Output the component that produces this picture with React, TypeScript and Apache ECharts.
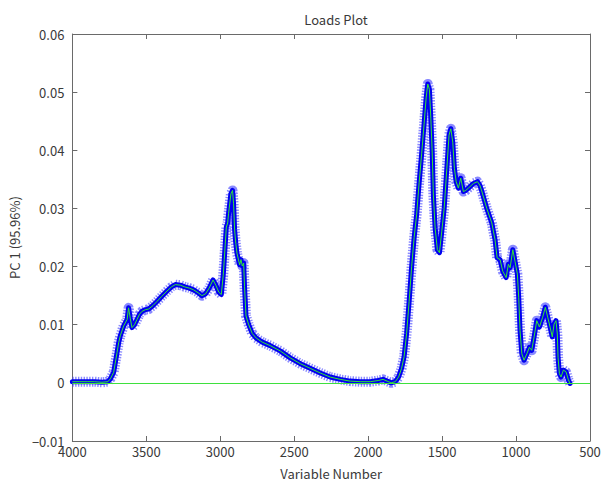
import React, { useEffect, useRef } from "react";
import * as echarts from "echarts";

const titleText = "Loads Plot";
const xAxisName = "Variable Number";
const yAxisName = "PC 1 (95.96%)";

const wavenumbers: number[] = [
  4000, 3950, 3900, 3850, 3800, 3760, 3743, 3721, 3698, 3687, 3676, 3653, 3630, 3620, 3608, 3597,
  3580, 3563, 3546, 3529, 3505, 3484, 3455, 3428, 3395, 3360, 3330, 3304, 3270, 3240, 3210, 3180,
  3150, 3124, 3100, 3075, 3049, 3030, 3010, 2993, 2980, 2973, 2959, 2950, 2944, 2928, 2917, 2910,
  2903, 2895, 2887, 2869, 2860, 2851, 2842, 2836, 2826, 2809, 2784, 2757, 2716, 2662, 2595, 2527,
  2459, 2392, 2324, 2257, 2189, 2122, 2054, 1986, 1932, 1899, 1872, 1845, 1817, 1794, 1774, 1757,
  1740, 1723, 1706, 1689, 1672, 1655, 1638, 1622, 1608, 1597, 1586, 1576, 1567, 1559, 1547, 1532,
  1518, 1502, 1486, 1468, 1453, 1441, 1428, 1417, 1405, 1390, 1374, 1356, 1340, 1322, 1288, 1261,
  1245, 1232, 1198, 1164, 1142, 1128, 1108, 1090, 1067, 1052, 1040, 1022, 1007, 991, 982, 973,
  961, 946, 927, 910, 894, 878, 860, 842, 820, 802, 786, 770, 755, 743, 730, 721,
  716, 707, 696, 680, 662, 646, 635,
];

const loads: number[] = [
  0.0002, 0.0002, 0.0002, 0.0002, 0.0001, 0.0002, 0.0007, 0.0018, 0.0052, 0.0069, 0.0081, 0.0098, 0.0109, 0.0129, 0.011, 0.0095,
  0.01, 0.0109, 0.0118, 0.0123, 0.0126, 0.0127, 0.0133, 0.014, 0.0149, 0.0158, 0.0165, 0.0169, 0.0168, 0.0165, 0.0163, 0.016,
  0.0155, 0.015, 0.0153, 0.0163, 0.0177, 0.0168, 0.0156, 0.0152, 0.0185, 0.0212, 0.0268, 0.0275, 0.0291, 0.0325, 0.0331, 0.0308,
  0.0263, 0.024, 0.0223, 0.0203, 0.0212, 0.0201, 0.0206, 0.0166, 0.0115, 0.0101, 0.0085, 0.0077, 0.007, 0.0064, 0.0055, 0.0043,
  0.0033, 0.0025, 0.0017, 0.001, 0.0006, 0.0003, 0.0002, 0.0002, 0.0004, 0.0006, 0.0003, 0.0, 0.0002, 0.001, 0.0025, 0.0045,
  0.0085, 0.014, 0.02, 0.025, 0.029, 0.0345, 0.0395, 0.0445, 0.049, 0.0514, 0.0505, 0.0454, 0.0397, 0.0323, 0.0266, 0.0229,
  0.0224, 0.0261, 0.03, 0.0369, 0.0426, 0.0437, 0.0414, 0.0369, 0.0346, 0.0335, 0.0352, 0.0329, 0.0331, 0.0335, 0.0343, 0.0346,
  0.034, 0.033, 0.03, 0.0275, 0.0246, 0.0215, 0.0212, 0.0192, 0.0181, 0.0204, 0.0198, 0.0229, 0.0209, 0.0187, 0.0147, 0.009,
  0.005, 0.0039, 0.005, 0.0061, 0.0056, 0.0079, 0.0107, 0.0096, 0.0113, 0.013, 0.0113, 0.0096, 0.0079, 0.0101, 0.0107, 0.0084,
  0.0044, 0.0016, 0.001, 0.0022, 0.0019, 0.0005, -0.0001,
];

const xTicks = { min: 500, max: 4000, interval: 500 };
const yTicks = { min: -0.01, max: 0.06, interval: 0.01 };

const FONT = "'Noto Sans CJK JP', 'Noto Sans', sans-serif";
const TEXT = "#3a3a3a";
const AXIS = "#6a6a6a";

export default function App() {
  const ref = useRef<HTMLDivElement>(null);

  useEffect(() => {
    if (!ref.current) return;
    const chart = echarts.init(ref.current, undefined, { renderer: "svg" });
    const data = wavenumbers.map((w, i) => [w, loads[i]]);

    const xBase = {
      type: "value" as const,
      inverse: true,
      min: xTicks.min,
      max: xTicks.max,
      interval: xTicks.interval,
      axisLine: { show: true, onZero: false, lineStyle: { color: AXIS, width: 1 } },
      axisTick: { show: true, inside: true, length: 5, lineStyle: { color: AXIS } },
      splitLine: { show: false },
    };
    const yBase = {
      type: "value" as const,
      min: yTicks.min,
      max: yTicks.max,
      interval: yTicks.interval,
      axisLine: { show: true, onZero: false, lineStyle: { color: AXIS, width: 1 } },
      axisTick: { show: true, inside: true, length: 5, lineStyle: { color: AXIS } },
      splitLine: { show: false },
    };

    chart.setOption({
      animation: false,
      title: {
        text: titleText,
        left: 331,
        top: 8,
        textAlign: "center",
        textStyle: { fontFamily: FONT, fontSize: 13, fontWeight: "normal", color: TEXT },
      },
      grid: { left: 72, right: 15, top: 34, bottom: 33, containLabel: false },
      xAxis: [
        {
          ...xBase,
          position: "bottom",
          name: xAxisName,
          nameLocation: "middle",
          nameGap: 26,
          nameTextStyle: { fontFamily: FONT, fontSize: 13, color: TEXT },
          axisLabel: {
            show: true,
            margin: 4,
            fontFamily: FONT,
            fontSize: 13,
            color: TEXT,
            formatter: (v: number) => String(v),
          },
        },
        { ...xBase, position: "top", axisLabel: { show: false } },
      ],
      yAxis: [
        {
          ...yBase,
          position: "left",
          name: yAxisName,
          nameLocation: "middle",
          nameGap: 46,
          nameTextStyle: { fontFamily: FONT, fontSize: 13, color: TEXT },
          axisLabel: {
            show: true,
            margin: 8,
            fontFamily: FONT,
            fontSize: 13,
            color: TEXT,
            formatter: (v: number) => {
              if (Math.abs(v) < 1e-9) return "0";
              const s = Math.abs(v).toFixed(2);
              return v < 0 ? "\u2212" + s : s;
            },
          },
        },
        { ...yBase, position: "right", axisLabel: { show: false } },
      ],
      series: [
        {
          type: "line",
          data: [],
          z: 1,
          silent: true,
          markLine: {
            silent: true,
            symbol: "none",
            label: { show: false },
            lineStyle: { color: "#3ee03e", width: 1, type: "solid" },
            data: [{ yAxis: 0 }],
          },
        },
        {
          type: "line",
          data,
          z: 2,
          showSymbol: false,
          silent: true,
          lineStyle: { width: 10, color: "rgba(60,60,255,0.6)", type: [1.4, 1.4], cap: "butt", join: "round" },
        },
        {
          type: "line",
          data,
          z: 3,
          showSymbol: false,
          silent: true,
          lineStyle: { width: 5, color: "#0000f0", cap: "round", join: "round" },
        },
        {
          type: "line",
          data,
          z: 4,
          showSymbol: false,
          silent: true,
          lineStyle: { width: 1, color: "#33e633" },
        },
      ],
    });

    return () => chart.dispose();
  }, []);

  return (
    <div
      ref={ref}
      style={{ position: "fixed", left: 0, top: 0, width: 605, height: 485, background: "#ffffff" }}
    />
  );
}
